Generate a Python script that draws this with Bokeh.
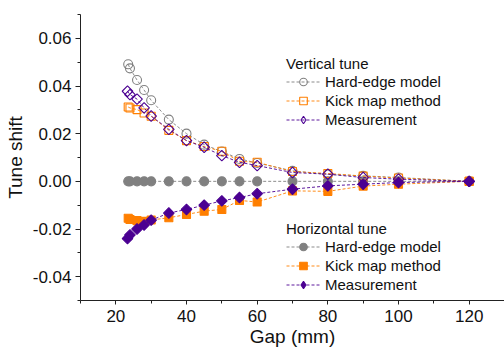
import numpy as np
from bokeh.plotting import figure
from bokeh.models import (Legend, LegendItem, SingleIntervalTicker, NumeralTickFormatter, Range1d,
                          CDSView, IndexFilter, ColumnDataSource)
from bokeh.embed import file_html
from bokeh.resources import INLINE

# Gap values (mm)
gap_model = [23.5, 24, 26, 28, 30, 35, 40, 45, 50, 55, 60, 70, 80, 90, 100, 120]
gap_meas = [23.3, 24, 26, 28, 30, 35, 40, 45, 50, 55, 60, 70, 80, 90, 100, 120]

# Vertical tune shift
v_hard = [0.0491, 0.0474, 0.0425, 0.0383, 0.0340, 0.0259, 0.0200, 0.0154, 0.0125, 0.0094, 0.0077, 0.0044, 0.0029, 0.0023, 0.0016, 0.0]
v_kick = [0.0312, 0.0308, 0.0301, 0.0287, 0.0273, 0.0214, 0.0171, 0.0146, 0.0126, 0.0084, 0.0080, 0.0041, 0.0033, 0.0022, 0.0014, 0.0]
v_meas = [0.0378, 0.0364, 0.0345, 0.0308, 0.0274, 0.0218, 0.0171, 0.0143, 0.0108, 0.0080, 0.0066, 0.0037, 0.0030, 0.0016, 0.0009, 0.0]

# Horizontal tune shift
h_hard = [0.0, 0.0, 0.0, 0.0, 0.0, 0.0, 0.0, 0.0, 0.0, 0.0, 0.0, 0.0, 0.0, 0.0, 0.0, 0.0]
h_kick = [-0.0155, -0.0160, -0.0165, -0.0168, -0.0162, -0.0153, -0.0139, -0.0125, -0.0118, -0.0080, -0.0087, -0.0040, -0.0042, -0.0020, -0.0012, 0.0]
h_meas = [-0.0240, -0.0225, -0.0200, -0.0183, -0.0163, -0.0133, -0.0118, -0.0100, -0.0082, -0.0068, -0.0052, -0.0033, -0.0019, -0.0012, -0.0005, 0.0]

GRAY = "#808080"
ORANGE = "#FF7F00"
PURPLE = "#4B0092"
FONT = "Liberation Sans"

p = figure(width=504, height=350, output_backend="svg", toolbar_location=None,
           x_range=Range1d(10, 130), y_range=Range1d(-0.05, 0.07),
           min_border_left=80, min_border_right=0, min_border_top=14, min_border_bottom=50)
p.outline_line_color = None
p.grid.visible = False
p.background_fill_color = "white"

p.xaxis.ticker = SingleIntervalTicker(interval=20, num_minor_ticks=2)
p.yaxis.ticker = SingleIntervalTicker(interval=0.02, num_minor_ticks=2)
p.yaxis.formatter = NumeralTickFormatter(format="0.00")
p.xaxis.axis_label = "Gap (mm)"
p.yaxis.axis_label = "Tune shift"
for ax in (p.xaxis[0], p.yaxis[0]):
    ax.major_tick_in = 0
    ax.major_tick_out = 5
    ax.minor_tick_in = 0
    ax.minor_tick_out = 3
    ax.axis_line_color = "#222222"
    ax.major_tick_line_color = "#222222"
    ax.minor_tick_line_color = "#222222"
    ax.major_label_text_font = FONT
    ax.major_label_text_font_size = "17px"
    ax.major_label_text_color = "#111111"
    ax.axis_label_text_font = FONT
    ax.axis_label_text_font_size = "19px"
    ax.axis_label_text_font_style = "normal"
    ax.axis_label_text_color = "#111111"
p.xaxis.major_tick_out = 4
p.xaxis.major_label_standoff = 5
p.xaxis.axis_label_standoff = 1
p.yaxis.major_label_standoff = 4
p.yaxis.axis_label_standoff = 4

src_vm = ColumnDataSource(dict(x=gap_meas, y=v_meas))
src_hm = ColumnDataSource(dict(x=gap_meas, y=h_meas))

# legend-only diamond glyphs: only the converged last point, hidden under the real markers
last_v = CDSView(filter=IndexFilter(indices=[len(gap_meas) - 1]))
last_h = CDSView(filter=IndexFilter(indices=[len(gap_meas) - 1]))
d_vm = p.scatter("x", "y", source=src_vm, view=last_v, marker="diamond", size=5,
                 line_color=PURPLE, line_width=1.1, fill_color=None)
d_hm = p.scatter("x", "y", source=src_hm, view=last_h, marker="diamond", size=5,
                 line_color=PURPLE, line_width=1.1, fill_color=PURPLE)


def series(x, y, color, marker, filled, size, angle=0.0, src=None):
    if src is None:
        src = ColumnDataSource(dict(x=x, y=y))
    ln = p.line("x", "y", source=src, line_color=color, line_width=1, line_dash="3 2", line_alpha=0.9)
    sc = p.scatter("x", "y", source=src, marker=marker, size=size, angle=angle, line_color=color,
                   line_width=1.1, fill_color=(color if filled else None))
    return ln, sc


l_vh, s_vh = series(gap_model, v_hard, GRAY, "circle", False, 9)
l_hh, s_hh = series(gap_model, h_hard, GRAY, "circle", True, 9)
l_vk, s_vk = series(gap_model, v_kick, ORANGE, "square", False, 8)
l_hk, s_hk = series(gap_model, h_kick, ORANGE, "square", True, 8)
l_vm, s_vm = series(gap_meas, v_meas, PURPLE, "square", False, 7.5, np.pi / 4, src_vm)
l_hm, s_hm = series(gap_meas, h_meas, PURPLE, "square", True, 7.5, np.pi / 4, src_hm)


def make_legend(title, rs, loc):
    leg = Legend(items=[LegendItem(label="Hard-edge model", renderers=rs[0]),
                        LegendItem(label="Kick map method", renderers=rs[1]),
                        LegendItem(label="Measurement", renderers=rs[2])],
                 title=title, location=loc)
    leg.title_text_font = FONT
    leg.title_text_font_size = "15px"
    leg.title_text_font_style = "normal"
    leg.title_text_color = "#111111"
    leg.label_text_font = FONT
    leg.label_text_font_size = "15px"
    leg.label_text_color = "#111111"
    leg.border_line_color = None
    leg.background_fill_alpha = 0
    leg.padding = 0
    leg.margin = 0
    leg.spacing = 0
    leg.glyph_width = 34
    leg.glyph_height = 19
    leg.label_height = 17
    leg.label_standoff = 5
    leg.title_standoff = 0
    return leg


p.add_layout(make_legend("Vertical tune", [[l_vh, s_vh], [l_vk, s_vk], [l_vm, d_vm]], (206, 171)))
p.add_layout(make_legend("Horizontal tune", [[l_hh, s_hh], [l_hk, s_hk], [l_hm, d_hm]], (206, 6)))

open("out.html", "w").write(file_html(p, INLINE))
